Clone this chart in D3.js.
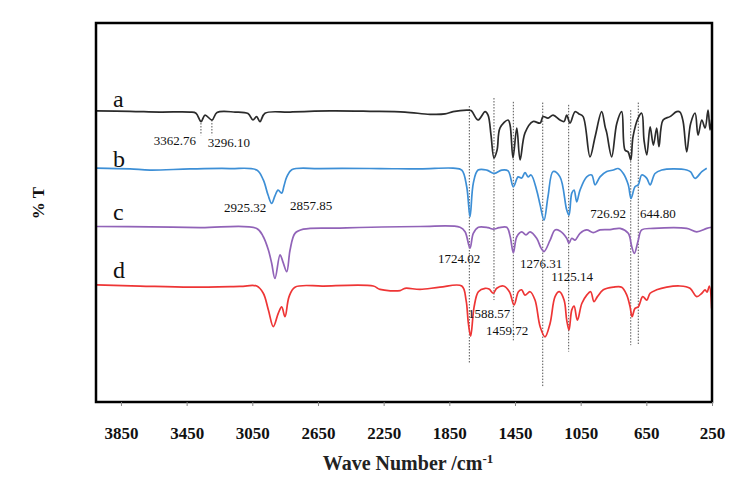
<!DOCTYPE html>
<html><head><meta charset="utf-8">
<script src="https://cdn.jsdelivr.net/npm/d3@7"></script>
<style>body{margin:0;background:#fff}svg{display:block}</style>
</head><body><svg id="c" width="751" height="489"></svg>
<script>
// ---- data (wavenumber cm-1, %T offset-stacked) ----
const seriesNames = ["a","b","c","d"];
const seriesColors = ["#2b2b2b","#3d8fd6","#9163b8","#ee3535"];
const wnA = [4000,3795,3612,3429,3393,3362,3338,3295,3265,3155,3076,3046,3024,3003,2973,2820,2577,2333,2120,1968,1876,1827,1744,1718,1675,1632,1614,1596,1578,1559,1541,1492,1480,1462,1439,1419,1389,1340,1297,1279,1249,1218,1176,1151,1135,1115,1084,1060,1035,993,962,922,901,891,861,830,800,780,761,745,731,700,678,664,647,627,607,587,573,548,506,465,445,426,404,380,353,335,312,292,274,262,252];
const tA  = [76.8,76.7,76.5,76.5,76.2,74.0,75.7,74.4,76.4,76.5,76.1,74.4,75.3,74.0,76.2,76.5,76.8,76.7,76.5,75.9,76.0,76.6,77.0,76.9,74.4,76.6,75.7,70.4,64.4,66.5,72.3,74.4,73.1,64.4,72.3,63.9,71.0,74.0,73.6,75.3,74.9,75.7,74.4,74.0,75.7,73.6,76.6,76.0,75.3,64.7,70.0,76.6,72.6,71.0,64.7,73.5,76.6,66.5,66.0,63.9,70.0,74.9,76.2,69.1,65.2,72.6,67.8,72.3,67.4,74.4,75.3,76.6,76.5,74.0,66.0,73.5,76.2,70.4,74.4,72.3,77.0,71.8,74.5];
const wnB = [4000,3795,3673,3429,3186,3023,2983,2954,2932,2912,2893,2871,2857,2840,2810,2638,2272,2028,1827,1774,1744,1724,1704,1675,1622,1578,1531,1492,1460,1431,1409,1389,1370,1352,1318,1297,1273,1249,1218,1176,1135,1121,1104,1090,1074,1054,1013,983,962,932,891,851,822,790,760,743,719,699,678,647,627,597,556,485,404,380,353,312,282];
const tB  = [61.7,61.5,61.2,61.5,61.6,61.2,58.6,54.6,52.4,54.4,55.9,55.1,57.0,59.4,61.3,61.6,61.6,61.5,61.7,61.2,56.8,48.9,57.7,61.2,61.2,60.3,61.2,61.0,56.8,59.4,59.1,60.5,59.4,59.9,55.9,52.0,48.0,54.2,60.8,59.4,50.7,49.3,55.1,55.9,52.8,55.9,59.4,59.9,57.3,59.4,60.8,61.2,61.6,60.3,57.3,53.7,56.8,57.3,59.9,59.0,57.3,60.3,61.2,61.5,61.2,60.7,59.0,60.8,61.7];
const wnC = [4000,3673,3368,3023,2983,2952,2932,2912,2881,2863,2840,2820,2790,2739,2516,2028,1785,1754,1724,1704,1673,1614,1582,1547,1500,1480,1460,1439,1409,1383,1358,1318,1291,1273,1236,1206,1176,1135,1121,1104,1084,1054,1013,973,932,871,810,760,739,723,699,678,607,404,343,282,252];
const tC  = [46.3,46.2,46.0,45.8,43.6,40.1,36.6,32.6,38.8,36.9,34.4,40.1,44.5,45.6,45.9,46.3,46.1,44.9,40.6,44.5,46.1,46.0,45.6,46.0,46.1,43.8,39.4,43.6,44.9,44.1,44.9,43.2,40.6,39.7,42.7,45.4,45.1,43.2,41.9,43.2,42.7,44.5,45.4,44.7,45.4,45.5,45.8,44.5,41.0,39.2,42.7,45.4,45.8,45.8,44.9,45.8,46.1];
const wnD = [4000,3734,3429,3125,3023,2983,2952,2922,2892,2871,2851,2826,2790,2617,2313,2272,2150,2120,2028,1907,1774,1748,1734,1720,1699,1673,1632,1608,1582,1561,1521,1484,1456,1429,1409,1389,1358,1328,1297,1267,1236,1206,1180,1151,1135,1121,1104,1090,1070,1043,1013,989,969,948,912,851,800,769,749,737,719,699,672,647,627,587,526,445,384,343,312,292,280,266,252];
const tD  = [30.9,30.6,30.3,30.5,30.6,28.7,24.3,19.9,23.4,25.1,22.5,27.8,30.3,30.6,30.6,29.7,29.4,30.0,29.7,30.3,30.6,26.9,20.8,17.4,25.1,29.1,30.0,29.8,28.7,30.0,30.6,29.1,25.6,29.1,29.6,28.2,29.1,26.9,19.9,17.2,20.8,27.8,29.1,26.9,21.6,19.0,24.3,25.3,21.6,26.0,28.2,29.1,26.5,27.8,29.6,30.3,30.3,28.2,25.1,22.5,24.7,25.1,27.8,26.9,28.7,29.6,30.3,30.6,30.0,27.8,28.7,29.6,29.0,30.6,24.7];
const xTicks = [3850,3450,3050,2650,2250,1850,1450,1050,650,250];
// guide (dotted) lines: wavenumber, top %T, bottom %T
const guideWn  = [1728,1578,1460,1281,1123,745,699,3362.76,3296.10];
const guideTop = [78.1,80.2,79.2,79.0,78.4,77.0,79.0,74.4,74.4];
const guideBot = [10.3,26.9,15.9,4.0,13.3,15.0,15.3,70.4,70.4];
// peak annotations: text, wavenumber (centre), %T (baseline)
const peakText = ["3362.76","3296.10","2925.32","2857.85","726.92","644.80","1724.02","1276.31","1125.14","1588.57","1459.72"];
const peakWn   = [3521,3192,3094,2692,883,579,1791,1291,1102,1608,1498];
const peakT    = [67.8,67.3,50.1,50.7,48.5,48.5,36.7,35.4,31.9,22.2,17.7];
const nameT    = [77.8,62.0,48.0,32.7];
const nameWn   = 3898;

const series = [[wnA,tA],[wnB,tB],[wnC,tC],[wnD,tD]];

// ---- layout ----
const L=96,R=712,T=23,B=402;
const svg=d3.select("#c");
const x=d3.scaleLinear().domain([4002,250]).range([L,R]);
const y=d3.scaleLinear().domain([0,100]).range([B,T]);
const serif="'Liberation Serif','Times New Roman',serif";

// guides
svg.append("g").selectAll("line").data(guideWn).join("line")
  .attr("x1",d=>x(d)).attr("x2",d=>x(d))
  .attr("y1",(d,i)=>y(guideTop[i])).attr("y2",(d,i)=>y(guideBot[i]))
  .attr("stroke","#555").attr("stroke-width",1).attr("stroke-dasharray","1.5,1.5");

// spectra
const line=d3.line().x(d=>x(d[0])).y(d=>y(d[1])).curve(d3.curveCatmullRom.alpha(0.5));
series.forEach((s,i)=>{
  const pts=s[0].map((w,j)=>[w,s[1][j]]);
  svg.append("path").datum(pts).attr("d",line).attr("fill","none")
    .attr("stroke",seriesColors[i]).attr("stroke-width",1.7).attr("stroke-linejoin","round");
});

// series names
svg.append("g").selectAll("text").data(seriesNames).join("text")
  .attr("x",x(nameWn)).attr("y",(d,i)=>y(nameT[i]))
  .attr("font-family",serif).attr("font-size",24).attr("fill","#111").text(d=>d);

// peak labels
svg.append("g").selectAll("text").data(peakText).join("text")
  .attr("x",(d,i)=>x(peakWn[i])).attr("y",(d,i)=>y(peakT[i]))
  .attr("text-anchor","middle").attr("font-family",serif).attr("font-size",13)
  .attr("fill","#111").text(d=>d);

// frame
svg.append("rect").attr("x",L).attr("y",T).attr("width",R-L).attr("height",B-T)
  .attr("fill","none").attr("stroke","#000").attr("stroke-width",2.5);

// x axis
const ax=svg.append("g").attr("transform",`translate(0,${B})`)
  .call(d3.axisBottom(x).tickValues(xTicks).tickSize(4).tickFormat(d3.format("d")));
ax.select(".domain").remove();
ax.selectAll(".tick line").attr("stroke","#888");
ax.selectAll(".tick text").attr("dy",0).attr("y",37)
  .attr("font-family",serif).attr("font-size",17).attr("font-weight","bold").attr("fill","#111");

// titles
const xt=svg.append("text").attr("x",408).attr("y",470).attr("text-anchor","middle")
  .attr("font-family",serif).attr("font-size",20).attr("font-weight","bold").attr("fill","#222");
xt.append("tspan").text("Wave Number /cm");
xt.append("tspan").attr("dy",-7).attr("font-size",13).text("-1");
svg.append("text").attr("transform","translate(44,203) rotate(-90)").attr("text-anchor","middle")
  .attr("font-family",serif).attr("font-size",17).attr("font-weight","bold").attr("fill","#111").text("% T");
</script></body></html>
